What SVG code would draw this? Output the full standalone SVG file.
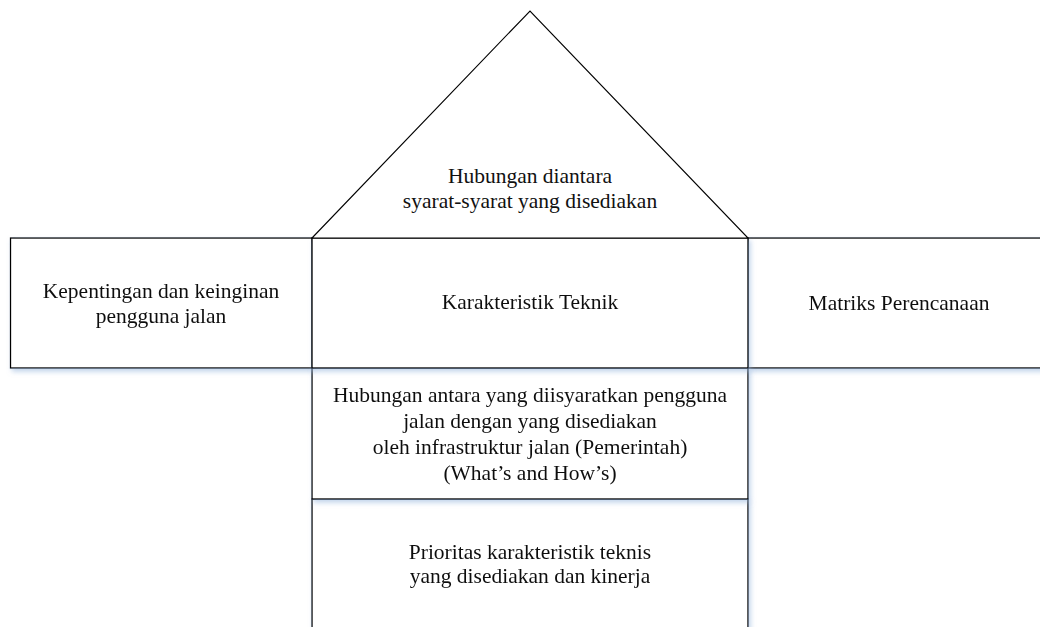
<svg xmlns="http://www.w3.org/2000/svg" width="1040" height="627" viewBox="0 0 1040 627">
  <defs>
    <filter id="shadow" x="-5%" y="-5%" width="115%" height="125%">
      <feGaussianBlur in="SourceAlpha" stdDeviation="2.5"/>
      <feOffset dx="2" dy="3" result="b"/>
      <feFlood flood-color="#8fb0da" flood-opacity="0.55"/>
      <feComposite in2="b" operator="in"/>
      <feMerge>
        <feMergeNode/>
        <feMergeNode in="SourceGraphic"/>
      </feMerge>
    </filter>
    <style>
      .box { fill: #ffffff; stroke: #000000; stroke-width: 1.3; }
      .roof { fill: #ffffff; stroke: #000000; stroke-width: 1.1; }
      .lbl { font-family: "Liberation Serif", "Times New Roman", serif; font-size: 21.5px; fill: #111111; text-anchor: middle; }
    </style>
  </defs>
  <rect width="1040" height="627" fill="#ffffff"/>

  <g id="node-prioritas" filter="url(#shadow)">
    <rect class="box" x="312" y="499" width="436" height="150"/>
    <text class="lbl" x="530" y="559">Prioritas karakteristik teknis</text>
    <text class="lbl" x="530" y="583">yang disediakan dan kinerja</text>
  </g>

  <g id="node-hubungan-whats-hows" filter="url(#shadow)">
    <rect class="box" x="312" y="368" width="436" height="131"/>
    <text class="lbl" x="530" y="401.5">Hubungan antara yang diisyaratkan pengguna</text>
    <text class="lbl" x="530" y="427.5">jalan dengan yang disediakan</text>
    <text class="lbl" x="530" y="453.5">oleh infrastruktur jalan (Pemerintah)</text>
    <text class="lbl" x="530" y="479.5">(What’s and How’s)</text>
  </g>

  <g id="node-kepentingan" filter="url(#shadow)">
    <rect class="box" x="10.5" y="238" width="301.5" height="130"/>
    <text class="lbl" x="161" y="298">Kepentingan dan keinginan</text>
    <text class="lbl" x="161" y="323">pengguna jalan</text>
  </g>

  <g id="node-matriks" filter="url(#shadow)">
    <rect class="box" x="748" y="238" width="310" height="130"/>
    <text class="lbl" x="899" y="310">Matriks Perencanaan</text>
  </g>

  <g id="node-karakteristik" filter="url(#shadow)">
    <rect class="box" x="312" y="238" width="436" height="130"/>
    <text class="lbl" x="530" y="309">Karakteristik Teknik</text>
  </g>

  <g id="node-roof">
    <polygon class="roof" points="312,238 530,11 748,238"/>
    <text class="lbl" x="530" y="183">Hubungan diantara</text>
    <text class="lbl" x="530" y="208">syarat-syarat yang disediakan</text>
  </g>

  <g id="connectors"></g>
</svg>
